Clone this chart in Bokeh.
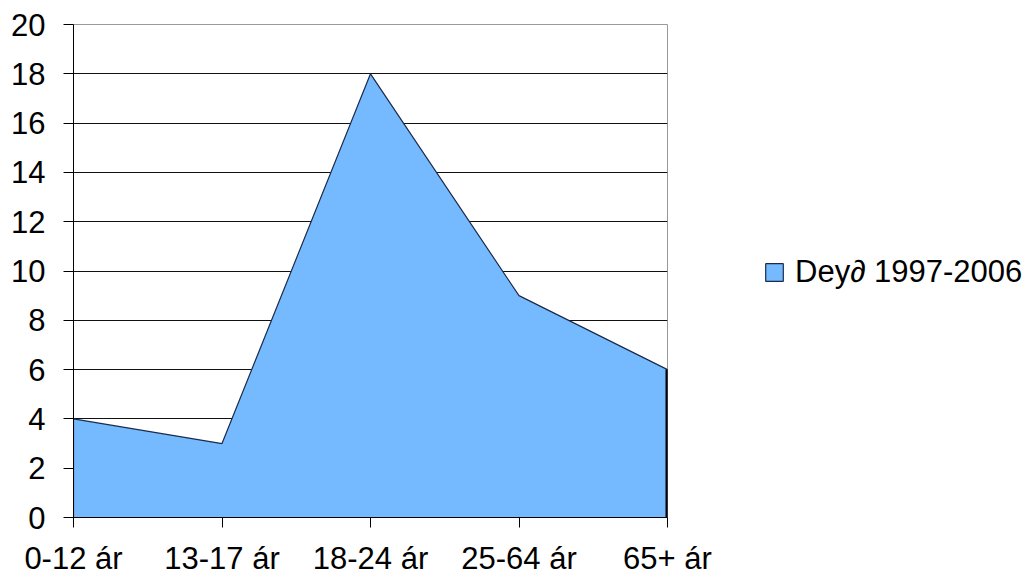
from bokeh.plotting import figure
from bokeh.models import FixedTicker, Legend, LegendItem, ColumnDataSource
from bokeh.embed import file_html
from bokeh.resources import INLINE

categories = ["0-12 ár", "13-17 ár", "18-24 ár", "25-64 ár", "65+ ár"]
values = [4, 3, 18, 9, 6]
series_name = "Dey∂ 1997-2006"
y_ticks = [0, 2, 4, 6, 8, 10, 12, 14, 16, 18, 20]

xs = list(range(len(categories)))
FONT = "Liberation Sans"
FILL = "#75b9ff"

p = figure(frame_width=594, frame_height=493, x_range=(0, len(categories) - 1), y_range=(0, 20),
           output_backend="svg", toolbar_location=None,
           min_border_left=73, min_border_top=24, min_border_right=363, min_border_bottom=40)
p.background_fill_color = "white"
p.outline_line_color = "#999999"
p.outline_line_width = 1

# closed area polygon built from the data (baseline at 0)
patch_x = [xs[0]] + xs + [xs[-1]]
patch_y = [0] + values + [0]
area = p.patch(x=patch_x, y=patch_y, fill_color=FILL, line_color="#1c2b4a", line_width=1.2)
p.segment(x0=xs[-1:], y0=[0], x1=xs[-1:], y1=values[-1:], line_color="black", line_width=4)

legend = Legend(items=[LegendItem(label=series_name, renderers=[area])], location=(96, 227),
                glyph_width=22, glyph_height=22, label_standoff=10, padding=0, spacing=0, margin=0,
                border_line_color=None, background_fill_alpha=0,
                label_text_font=FONT, label_text_font_size="31px", label_text_color="black")
p.add_layout(legend, "right")

# axes
p.xaxis.ticker = FixedTicker(ticks=xs)
p.xaxis.major_label_overrides = {i: c for i, c in enumerate(categories)}
p.yaxis.ticker = FixedTicker(ticks=y_ticks)
for ax in (p.xaxis, p.yaxis):
    ax.major_label_text_font = FONT
    ax.major_label_text_font_size = "31px"
    ax.major_label_text_color = "black"
    ax.axis_line_color = "black"
    ax.major_tick_line_color = "black"
    ax.major_tick_out = 10
    ax.major_tick_in = 0
    ax.minor_tick_line_color = None
p.xaxis.major_label_standoff = 13
p.yaxis.major_label_standoff = 18

p.xgrid.grid_line_color = None
p.ygrid.grid_line_color = "#111111"
p.ygrid.grid_line_width = 1

open("out.html", "w").write(file_html(p, INLINE))
